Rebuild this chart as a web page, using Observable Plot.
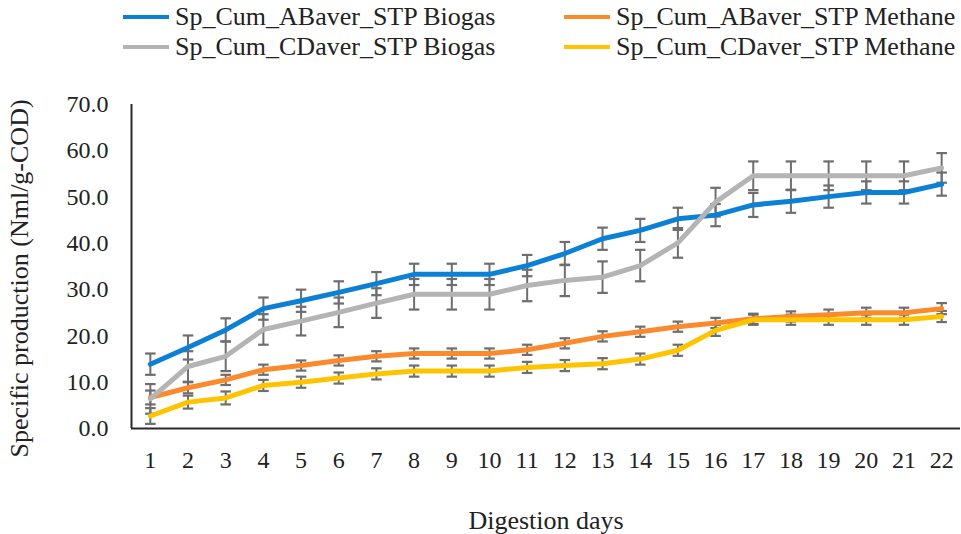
<!DOCTYPE html>
<html><head><meta charset="utf-8">
<script src="https://cdn.jsdelivr.net/npm/d3@7"></script>
<script src="https://cdn.jsdelivr.net/npm/@observablehq/plot@0.6"></script>
<style>
body{margin:0;background:#fff;font-family:'Liberation Serif',serif;}
#wrap{width:961px;height:534px;position:relative;overflow:hidden;background:#fff}
#legend{position:relative;height:64px;width:961px}
.item{position:absolute;display:flex;align-items:center;height:30px;font-size:26px;color:#222;white-space:nowrap;font-family:'Liberation Serif',serif}
.sw{width:46px;height:4px;margin-right:6px}
svg text{font-family:'Liberation Serif',serif}
</style></head><body><div id="wrap"><div id="legend"></div></div>
<script>
const days = [1,2,3,4,5,6,7,8,9,10,11,12,13,14,15,16,17,18,19,20,21,22];
const seriesNames = ["Sp_Cum_ABaver_STP Biogas","Sp_Cum_ABaver_STP Methane","Sp_Cum_CDaver_STP Biogas","Sp_Cum_CDaver_STP Methane"];
const seriesColors = ["#0c80d4","#fb8a2c","#b4b4b4","#fec400"];
const abBiogas = [13.9,17.5,21.3,25.9,27.6,29.4,31.3,33.3,33.3,33.3,35.2,37.8,41.0,42.8,45.3,46.1,48.3,49.1,50.1,51.0,51.0,52.8];
const abBiogasErr = [2.3,2.6,2.5,2.4,2.4,2.4,2.5,2.3,2.3,2.3,2.3,2.5,2.4,2.5,2.4,2.4,2.6,2.5,2.4,2.4,2.4,2.5];
const abMethane = [6.7,8.8,10.5,12.7,13.6,14.7,15.6,16.2,16.2,16.2,17.0,18.4,19.9,20.9,22.0,22.8,23.7,24.2,24.6,25.0,25.0,25.9];
const abMethaneErr = [1.5,1.2,1.1,1.1,1.1,1.1,1.1,1.1,1.1,1.1,1.1,1.1,1.1,1.1,1.1,1.1,1.1,1.1,1.1,1.1,1.1,1.2];
const cdBiogas = [6.4,13.4,15.6,21.4,23.2,25.1,27.1,29.0,29.0,29.0,30.9,32.0,32.7,35.2,40.1,48.9,54.6,54.6,54.6,54.6,54.6,56.3];
const cdBiogasErr = [3.2,3.3,3.2,3.3,3.1,3.2,3.2,3.3,3.3,3.3,3.4,3.4,3.4,3.4,3.2,3.1,3.1,3.1,3.1,3.1,3.1,3.2];
const cdMethane = [2.7,5.7,6.6,9.3,10.0,10.9,11.8,12.4,12.4,12.4,13.2,13.6,14.0,15.0,16.9,21.2,23.5,23.5,23.5,23.5,23.5,24.2];
const cdMethaneErr = [1.7,1.4,1.4,1.2,1.2,1.2,1.2,1.2,1.2,1.2,1.2,1.2,1.2,1.2,1.2,1.2,1.1,1.1,1.1,1.1,1.1,1.2];
const yTicks = [0,10,20,30,40,50,60,70];

const valueSets = [abBiogas, abMethane, cdBiogas, cdMethane];
const errSets = [abBiogasErr, abMethaneErr, cdBiogasErr, cdMethaneErr];
const rows = [];
seriesNames.forEach((s, i) => days.forEach((d, j) => rows.push({series: s, day: d, value: valueSets[i][j], err: errSets[i][j]})));

// legend (HTML, above the SVG)
const legend = document.getElementById("legend");
const legendPos = [[123,2],[564,2],[123,32],[564,32]];
seriesNames.forEach((s, i) => {
  const it = document.createElement("div");
  it.className = "item";
  it.style.left = legendPos[i][0] + "px";
  it.style.top = legendPos[i][1] + "px";
  const sw = document.createElement("span");
  sw.className = "sw"; sw.style.background = seriesColors[i];
  const tx = document.createElement("span"); tx.textContent = s;
  it.appendChild(sw); it.appendChild(tx);
  legend.appendChild(it);
});

const cap = 0.14;
const errColor = "#6e6e6e";
const chart = Plot.plot({
  width: 961, height: 470,
  marginTop: 40, marginBottom: 106, marginLeft: 131, marginRight: 1,
  style: {fontFamily: "'Liberation Serif', serif", fontSize: "24px", color: "#222", background: "white", overflow: "visible"},
  x: {type: "linear", domain: [0.5, 22.5]},
  y: {domain: [0, 70]},
  color: {domain: seriesNames, range: seriesColors},
  marks: [
    Plot.axisY(yTicks, {tickSize: 0, tickPadding: 23, tickFormat: d => d.toFixed(1), label: "Specific production (Nml/g-COD)", labelArrow: "none", labelAnchor: "center", labelOffset: 122}),
    Plot.axisX(days, {tickSize: 0, tickPadding: 22, tickFormat: d => String(d), label: "Digestion days", labelArrow: "none", labelAnchor: "center", labelOffset: 100}),
    Plot.ruleX(rows, {x: "day", y1: d => d.value - d.err, y2: d => d.value + d.err, stroke: errColor, strokeWidth: 2}),
    Plot.link(rows, {x1: d => d.day - cap, x2: d => d.day + cap, y1: d => d.value + d.err, y2: d => d.value + d.err, stroke: errColor, strokeWidth: 2.2}),
    Plot.link(rows, {x1: d => d.day - cap, x2: d => d.day + cap, y1: d => d.value - d.err, y2: d => d.value - d.err, stroke: errColor, strokeWidth: 2.2}),
    Plot.line(rows, {x: "day", y: "value", z: "series", stroke: "series", strokeWidth: 5, strokeLinejoin: "round", strokeLinecap: "round"}),
    Plot.ruleY([0], {stroke: "#2a2a2a", strokeWidth: 2}),
    Plot.ruleX([0.5], {stroke: "#2a2a2a", strokeWidth: 2})
  ]
});
document.getElementById("wrap").appendChild(chart);
chart.querySelectorAll('[aria-label="y-axis label"] text, [aria-label="x-axis label"] text').forEach(t => t.setAttribute("font-size", 26));
chart.querySelectorAll('[aria-label="y-axis label"] text').forEach(t => {
  const tr = t.getAttribute("transform") || "";
  t.setAttribute("transform", "translate(0,12) " + tr);
});
</script>
</body></html>
